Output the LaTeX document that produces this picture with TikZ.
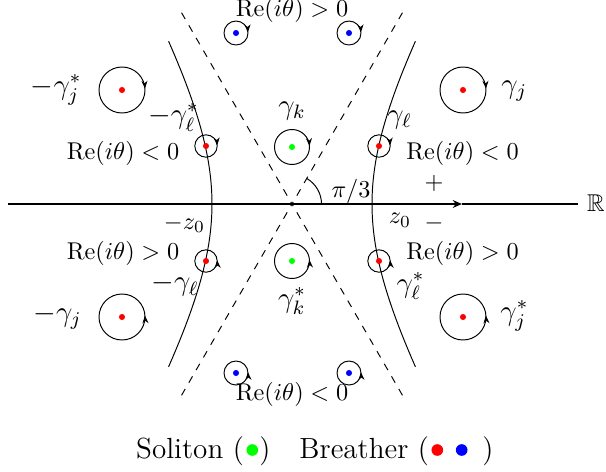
\documentclass[tikz,border=0pt]{standalone}
\usepackage{amssymb}
\usetikzlibrary{arrows.meta,decorations.markings}
\begin{document}
\begin{tikzpicture}[x=0.412pt,y=0.412pt,
  dotnode/.style={circle,inner sep=0pt,minimum size=2.5pt,fill=#1},
  loopcw/.style={postaction={decorate},decoration={markings,
    mark=at position 0.01 with {\arrowreversed{Stealth[length=3.2pt,width=2.5pt]}}}},
  loopccw/.style={postaction={decorate},decoration={markings,
    mark=at position 0.01 with {\arrow{Stealth[length=3.2pt,width=2.5pt]}}}},
  axisline/.style={line width=0.75pt},
  ray/.style={dash pattern=on 3pt off 3pt,dash phase=2pt},
  lbl/.style={inner sep=0pt},
  glbl/.style={inner sep=0pt,font=\large}]
\useasboundingbox (-292,-267) rectangle (314,204);

% axis
\coordinate (O) at (0,0);
\coordinate (axL) at (-284,0);
\coordinate (axM) at (170,0);
\coordinate (axR) at (286,0);
\draw[axisline,-{Stealth[length=3.8pt,width=3.2pt]}] (axL) -- (axM);
\draw[axisline] (axM) -- (axR);
\node[lbl] (RR) at (304,1) {$\mathbb{R}$};

% dashed rays
\coordinate (r1) at (60:227);
\coordinate (r2) at (120:227);
\coordinate (r3) at (240:227);
\coordinate (r4) at (300:227);
\foreach \r in {r1,r2,r3,r4} \draw[ray] (O) -- (\r);

% angle
\coordinate (arcS) at (29.5,0);
\draw (arcS) arc[start angle=0,end angle=60,radius=29.5];
\node[lbl] (ang) at (59,13) {$\pi/3$};

% hyperbolas
\draw plot[domain=-1:1,samples=60,variable=\t] ({80*cosh(\t)},{1.732*80*sinh(\t)});
\draw plot[domain=-1:1,samples=60,variable=\t] ({-80*cosh(\t)},{1.732*80*sinh(\t)});

% signs and z0
\node[lbl] (plus) at (142,21) {$+$};
\node[lbl] (minus) at (142,-19) {$-$};
\node[lbl] (z0) at (108,-16) {$z_0$};
\node[lbl] (mz0) at (-107.5,-20) {$-z_0$};

% region labels
\node[lbl] (reT) at (0,194) {$\mathrm{Re}(i\theta)>0$};
\node[lbl] (reB) at (0,-190) {$\mathrm{Re}(i\theta)<0$};
\node[lbl] (reUL) at (-169,51) {$\mathrm{Re}(i\theta)<0$};
\node[lbl] (reUR) at (170.5,51) {$\mathrm{Re}(i\theta)<0$};
\node[lbl] (reLL) at (-169,-49) {$\mathrm{Re}(i\theta)>0$};
\node[lbl] (reLR) at (170.5,-49) {$\mathrm{Re}(i\theta)>0$};

% poles
\node[dotnode=red] (gj) at (171,114) {};
\node[dotnode=red] (mgjs) at (-170,114) {};
\node[dotnode=red] (gjs) at (171,-113) {};
\node[dotnode=red] (mgj) at (-170,-113) {};
\node[dotnode=red] (gl) at (87,58) {};
\node[dotnode=red] (mgls) at (-86,58) {};
\node[dotnode=red] (gls) at (87,-57) {};
\node[dotnode=red] (mgl) at (-86,-57) {};
\node[dotnode=green] (gk) at (0,57) {};
\node[dotnode=green] (gks) at (0,-57) {};
\node[dotnode=blue] (b1) at (-56,171) {};
\node[dotnode=blue] (b2) at (57,171) {};
\node[dotnode=blue] (b3) at (-56,-169) {};
\node[dotnode=blue] (b4) at (57,-169) {};

% contours
\draw[loopcw] (gj) circle[radius=23];
\draw[loopcw] (mgjs) circle[radius=23];
\draw[loopccw] (gjs) circle[radius=23];
\draw[loopccw] (mgj) circle[radius=23];
\draw[loopcw] (gl) circle[radius=11.2];
\draw[loopcw] (mgls) circle[radius=11.2];
\draw[loopccw] (gls) circle[radius=11.2];
\draw[loopccw] (mgl) circle[radius=11.2];
\draw[loopcw] (gk) circle[radius=17.5];
\draw[loopccw] (gks) circle[radius=17.5];
\draw[loopcw] (b1) circle[radius=12];
\draw[loopcw] (b2) circle[radius=12];
\draw[loopccw] (b3) circle[radius=12];
\draw[loopccw] (b4) circle[radius=12];

% contour labels
\node[glbl,anchor=west] (Lgj) at (209,113) {$\gamma_j$};
\node[glbl,anchor=east] (Lmgjs) at (-210,114) {$-\gamma_j^*$};
\node[glbl,anchor=west] (Lgjs) at (208,-112) {$\gamma_j^*$};
\node[glbl,anchor=east] (Lmgj) at (-210,-113) {$-\gamma_j$};
\node[glbl] (Lgl) at (107.5,84) {$\gamma_\ell$};
\node[glbl] (Lmgls) at (-118.5,86.5) {$-\gamma_\ell^*$};
\node[glbl] (Lgls) at (118.5,-82) {$\gamma_\ell^*$};
\node[glbl] (Lmgl) at (-117,-81) {$-\gamma_\ell$};
\node[glbl] (Lgk) at (0,93) {$\gamma_k$};
\node[glbl] (Lgks) at (0,-97) {$\gamma_k^*$};

% legend
\node[glbl,anchor=base west] (legS) at (-156.3,-254.3) {Soliton (};
\node[dotnode=green,minimum size=4.8pt] (legG) at (-39.7,-246) {};
\node[glbl,anchor=base west] (legS2) at (-33,-254.3) {)};
\node[glbl,anchor=base west] (legB) at (7,-254.3) {Breather (};
\node[dotnode=red,minimum size=4.8pt] (legR) at (145.3,-246) {};
\node[dotnode=blue,minimum size=4.8pt] (legBl) at (169.7,-246) {};
\node[glbl,anchor=base west] (legB2) at (190,-254.3) {)};
\end{tikzpicture}
\end{document}
